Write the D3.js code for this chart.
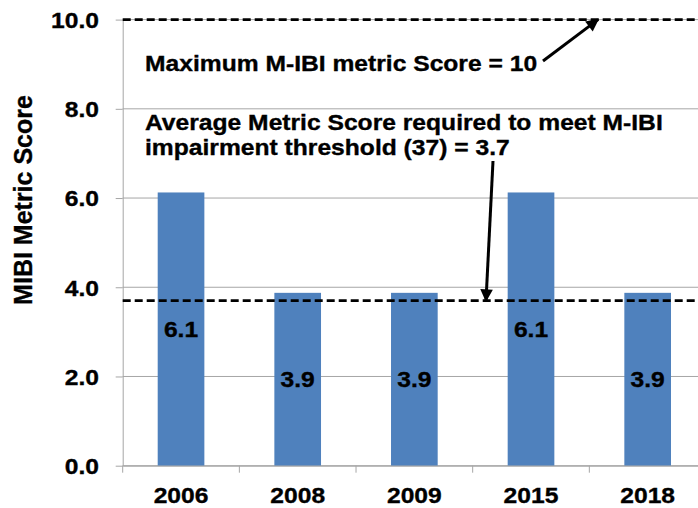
<!DOCTYPE html>
<html>
<head>
<meta charset="utf-8">
<script src="https://cdn.jsdelivr.net/npm/d3@7"></script>
<style>
  html, body { margin: 0; padding: 0; background: #fff; }
  svg { display: block; font-family: "Liberation Sans", Arial, sans-serif; font-weight: bold; }
  svg text { stroke: #000; stroke-width: 0.35px; }
</style>
</head>
<body>
<svg id="chart" width="698" height="508"></svg>
<script>
const categories = ["2006", "2008", "2009", "2015", "2018"];
const scores = [6.125, 3.875, 3.875, 6.125, 3.875];
const yTicks = [0, 2, 4, 6, 8, 10];
const maxScore = 10;
const thresholdScore = 3.7;
const yTitle = "MIBI Metric Score";
const noteMax = ["Maximum M-IBI metric Score = 10"];
const noteThreshold = ["Average Metric Score required to meet M-IBI", "impairment threshold (37) = 3.7"];

const W = 698, H = 508;
const margin = { left: 122.7, top: 19.6, bottom: 508 - 465.7 };
const plotRight = 706;
const SX = 1.12; // horizontal stretch of the source text

const svg = d3.select("#chart");

const x = d3.scaleBand()
  .domain(categories)
  .range([margin.left, plotRight])
  .paddingInner(0.6)
  .paddingOuter(0.3);

const y = d3.scaleLinear()
  .domain([0, 10])
  .range([H - margin.bottom, margin.top]);

const gridColor = "#a6a6a6";

// gridlines
svg.append("g").selectAll("line").data(yTicks).join("line")
  .attr("x1", margin.left).attr("x2", W)
  .attr("y1", d => y(d)).attr("y2", d => y(d))
  .attr("stroke", gridColor).attr("stroke-width", 1);

// bars
svg.append("g").selectAll("rect").data(scores).join("rect")
  .attr("x", (d, i) => x(categories[i]))
  .attr("width", x.bandwidth())
  .attr("y", d => y(d))
  .attr("height", d => y(0) - y(d))
  .attr("fill", "#4f81bd");

// y axis
const yAxis = svg.append("g")
  .attr("transform", `translate(${margin.left},0)`)
  .call(d3.axisLeft(y).tickValues(yTicks).tickFormat(d3.format(".1f")).tickSize(7).tickSizeOuter(0));
yAxis.select(".domain").attr("stroke", gridColor);
yAxis.selectAll(".tick line").attr("stroke", gridColor);
yAxis.selectAll(".tick text")
  .attr("x", 0).attr("dy", "0.36em")
  .attr("transform", `translate(-23.7,0) scale(${SX},1)`)
  .attr("fill", "#000")
  .style("font-size", "22px").style("font-weight", "bold")
  .style("font-family", "'Liberation Sans', Arial, sans-serif");

// x axis
const xAxis = svg.append("g")
  .attr("transform", `translate(0,${y(0)})`)
  .call(d3.axisBottom(x).tickSize(0).tickSizeOuter(0));
xAxis.select(".domain").attr("stroke", gridColor);
xAxis.selectAll(".tick text")
  .attr("y", 0).attr("dy", 0)
  .attr("transform", `translate(0,37) scale(${SX},1)`)
  .attr("fill", "#000")
  .style("font-size", "22px").style("font-weight", "bold")
  .style("font-family", "'Liberation Sans', Arial, sans-serif");
const gap = x.step() - x.bandwidth();
const bounds = categories.map(c => x(c) - gap / 2).concat([x(categories[categories.length - 1]) + x.bandwidth() + gap / 2]);
xAxis.append("g").selectAll("line").data(bounds).join("line")
  .attr("x1", d => d).attr("x2", d => d)
  .attr("y1", 0).attr("y2", 7)
  .attr("stroke", gridColor);

// dashed reference lines
svg.append("g").selectAll("line").data([maxScore, thresholdScore]).join("line")
  .attr("x1", margin.left).attr("x2", W)
  .attr("y1", d => y(d)).attr("y2", d => y(d))
  .attr("stroke", "#000").attr("stroke-width", 2.6)
  .attr("stroke-dasharray", "8,4");

// bar labels
svg.append("g").selectAll("text").data(scores).join("text")
  .attr("transform", (d, i) => `translate(${x(categories[i]) + x.bandwidth() / 2},${(y(d) + y(0)) / 2 + 8}) scale(${SX},1)`)
  .attr("text-anchor", "middle")
  .style("font-size", "22px")
  .attr("fill", "#000")
  .text(d => d3.format(".1f")(d));

// y title
svg.append("text")
  .attr("transform", `translate(32,200) rotate(-90)`)
  .attr("text-anchor", "middle")
  .style("font-size", "25px")
  .text(yTitle);

// annotation texts
function note(lines, x0, y0, lh) {
  svg.append("g").selectAll("text").data(lines).join("text")
    .attr("transform", (d, i) => `translate(${x0},${y0 + i * lh}) scale(${SX},1)`)
    .style("font-size", "22px")
    .attr("fill", "#000")
    .text(d => d);
}
note(noteMax, 145, 71, 25);
note(noteThreshold, 145, 130, 25);

// arrows
svg.append("defs").append("marker")
  .attr("id", "ah").attr("viewBox", "0 0 10 10")
  .attr("refX", 9).attr("refY", 5)
  .attr("markerWidth", 4.6).attr("markerHeight", 4.2)
  .attr("orient", "auto").attr("markerUnits", "strokeWidth")
  .append("path").attr("d", "M0,0 L10,5 L0,10 Z").attr("fill", "#000");

const arrows = [
  { x1: 543, y1: 61, x2: 598, v: maxScore },
  { x1: 493, y1: 161, x2: 486, v: thresholdScore }
];
svg.append("g").selectAll("line").data(arrows).join("line")
  .attr("x1", d => d.x1).attr("y1", d => d.y1)
  .attr("x2", d => d.x2).attr("y2", d => y(d.v))
  .attr("stroke", "#000").attr("stroke-width", 3)
  .attr("marker-end", "url(#ah)");
</script>
</body>
</html>
